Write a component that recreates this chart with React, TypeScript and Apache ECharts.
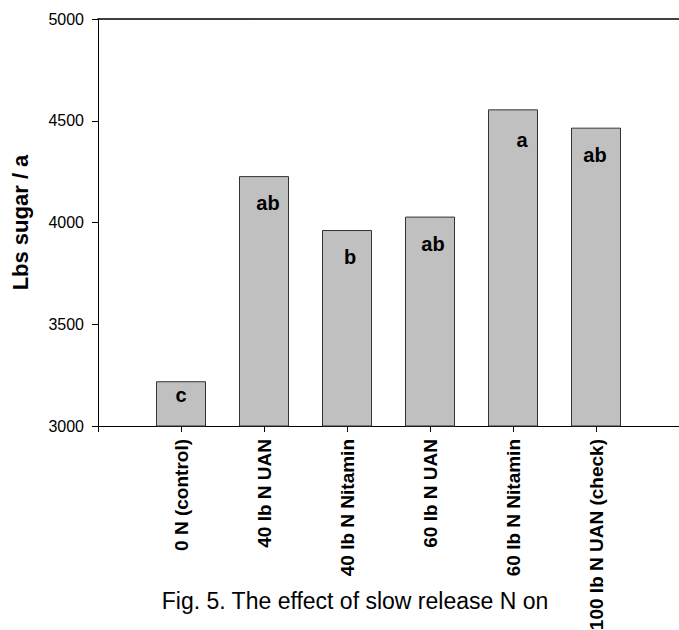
import React, { useEffect, useRef } from "react";
import * as echarts from "echarts";

const categories = [
  "0 N (control)",
  "40 lb N UAN",
  "40 lb N Nitamin",
  "60 lb N UAN",
  "60 lb N Nitamin",
  "100 lb N UAN (check)",
];
const positions = [1, 2, 3, 4, 5, 6];
const sugarValues = [3220, 4228, 3963, 4029, 4556, 4466];
const letters = ["c", "ab", "b", "ab", "a", "ab"];
const yMin = 3000;
const yMax = 5000;
const yStep = 500;
const yTitle = "Lbs sugar / a";
const caption = "Fig. 5. The effect of slow release N on";

const FONT = "'Liberation Sans', Arial, Helvetica, sans-serif";

export default function App() {
  const ref = useRef<HTMLDivElement>(null);
  useEffect(() => {
    if (!ref.current) return;
    const chart = echarts.init(ref.current, undefined, { renderer: "svg" });
    const labelTweaks = [
      { distance: 4, offset: [0, 0] },
      { distance: 17, offset: [4, 0] },
      { distance: 17, offset: [3, 0] },
      { distance: 17, offset: [3, 0] },
      { distance: 21, offset: [9, 0] },
      { distance: 17, offset: [-1, 0] },
    ];
    const option = {
      animation: false,
      backgroundColor: "#ffffff",
      textStyle: { fontFamily: FONT },
      grid: {
        left: 98,
        right: 0,
        top: 19,
        bottom: 204,
        containLabel: false,
        outerBoundsMode: "none",
      },
      xAxis: [
        {
          type: "value",
          min: 0,
          max: 7,
          interval: 1,
          position: "bottom",
          axisLine: { show: true, lineStyle: { color: "#000", width: 1 } },
          axisTick: { show: true, inside: false, length: 6, lineStyle: { color: "#000" } },
          splitLine: { show: false },
          axisLabel: {
            show: true,
            rotate: 90,
            margin: 13,
            fontSize: 19,
            fontWeight: "bold",
            color: "#000",
            fontFamily: FONT,
            hideOverlap: false,
            formatter: (v: number) => {
              const i = positions.indexOf(Math.round(v));
              return i >= 0 ? categories[i] : "";
            },
          },
        },
        {
          type: "value",
          min: 0,
          max: 7,
          position: "top",
          axisLine: { show: true, lineStyle: { color: "#000", width: 1.5 } },
          axisTick: { show: false },
          axisLabel: { show: false },
          splitLine: { show: false },
        },
      ],
      yAxis: {
        type: "value",
        min: yMin,
        max: yMax,
        interval: yStep,
        name: yTitle,
        nameLocation: "middle",
        nameGap: 67,
        nameTextStyle: { fontSize: 22, fontWeight: "bold", color: "#000", fontFamily: FONT },
        axisLine: { show: true, lineStyle: { color: "#000", width: 1 } },
        axisTick: { show: true, inside: false, length: 6, lineStyle: { color: "#000" } },
        splitLine: { show: false },
        axisLabel: {
          margin: 14,
          fontSize: 16,
          color: "#000",
          fontFamily: FONT,
          formatter: (v: number) => String(v),
        },
      },
      series: [
        {
          type: "bar",
          xAxisIndex: 0,
          yAxisIndex: 0,
          barWidth: 50,
          itemStyle: { color: "#c0c0c0", borderColor: "#333", borderWidth: 1 },
          data: positions.map((p, i) => ({
            value: [p, sugarValues[i]],
            label: {
              show: true,
              position: "insideTop",
              distance: labelTweaks[i].distance,
              offset: labelTweaks[i].offset,
              formatter: letters[i],
              fontSize: 20,
              fontWeight: "bold",
              color: "#000",
              fontFamily: FONT,
            },
          })),
        },
      ],
      graphic: [
        {
          type: "text",
          x: 355,
          y: 601,
          style: {
            text: caption,
            font: `23px ${FONT}`,
            fill: "#000",
            textAlign: "center",
            textVerticalAlign: "middle",
          },
        },
      ],
    };
    chart.setOption(option as any);
    return () => chart.dispose();
  }, []);
  return (
    <div
      ref={ref}
      style={{ position: "absolute", left: 0, top: 0, width: 679, height: 630 }}
    />
  );
}
